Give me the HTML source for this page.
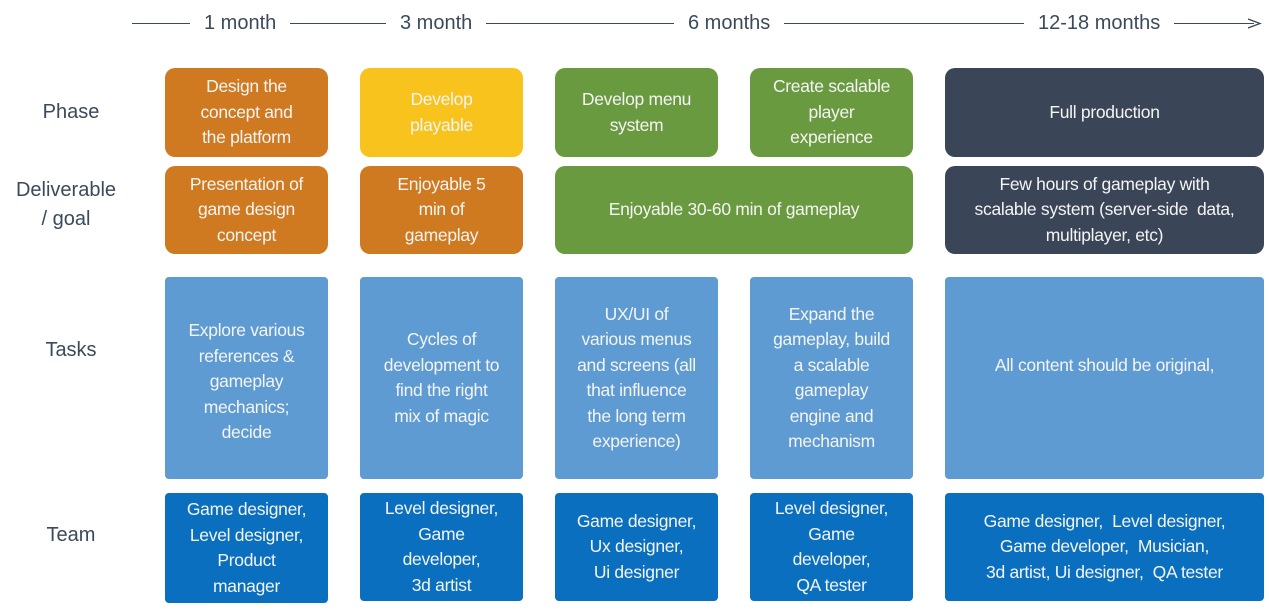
<!DOCTYPE html>
<html><head><meta charset="utf-8"><style>
body{margin:0;width:1269px;height:613px;background:#fff;position:relative;overflow:hidden;font-family:"Liberation Sans",sans-serif}
.b{position:absolute;display:flex;align-items:center;justify-content:center;text-align:center;color:#f4f4f4;font-size:17.5px;line-height:25.5px;box-sizing:border-box;padding:0 2px;white-space:nowrap;letter-spacing:-0.3px}
.r{border-radius:10px}
.s{border-radius:4px}
.lab{position:absolute;color:#3b4a5a;font-size:20px;text-align:center;line-height:29px}
.hd{position:absolute;top:12px;color:#3b4a5a;font-size:20px;background:#fff;padding:0 14px}
.ln{position:absolute;top:23px;height:1px;background:#3b4a5a}
</style></head><body>
<div class="ln" style="left:132px;width:1122px"></div>
<svg style="position:absolute;left:1248px;top:18px" width="14" height="11"><path d="M0 1 L12 5.5 L0 10" fill="none" stroke="#3b4a5a" stroke-width="1.3"/></svg>
<div class="hd" style="left:190px">1 month</div>
<div class="hd" style="left:386px">3 month</div>
<div class="hd" style="left:674px">6 months</div>
<div class="hd" style="left:1024px">12-18 months</div>

<div class="lab" style="left:30px;top:98px;width:82px">Phase</div>
<div class="lab" style="left:8px;top:176px;width:116px">Deliverable<br>/ goal</div>
<div class="lab" style="left:30px;top:336px;width:82px">Tasks</div>
<div class="lab" style="left:30px;top:521px;width:82px">Team</div>

<div class="b r" style="left:165px;top:68px;width:163px;height:89px;background:#cf7a20">Design the<br>concept and<br>the platform</div>
<div class="b r" style="left:360px;top:68px;width:163px;height:89px;background:#f7c31c">Develop<br>playable</div>
<div class="b r" style="left:555px;top:68px;width:163px;height:89px;background:#6a9a3f">Develop menu<br>system</div>
<div class="b r" style="left:750px;top:68px;width:163px;height:89px;background:#6a9a3f">Create scalable<br>player<br>experience</div>
<div class="b r" style="left:945px;top:68px;width:319px;height:89px;background:#3a4557">Full production</div>

<div class="b r" style="left:165px;top:166px;width:163px;height:88px;background:#cf7a20">Presentation of<br>game design<br>concept</div>
<div class="b r" style="left:360px;top:166px;width:163px;height:88px;background:#cf7a20">Enjoyable 5<br>min of<br>gameplay</div>
<div class="b r" style="left:555px;top:166px;width:358px;height:88px;background:#6a9a3f">Enjoyable 30-60 min of gameplay</div>
<div class="b r" style="left:945px;top:166px;width:319px;height:88px;background:#3a4557">Few hours of gameplay with<br>scalable system (server-side&nbsp; data,<br>multiplayer, etc)</div>

<div class="b s" style="left:165px;top:277px;width:163px;height:202px;background:#5e9bd2;padding-top:8px">Explore various<br>references &amp;<br>gameplay<br>mechanics;<br>decide</div>
<div class="b s" style="left:360px;top:277px;width:163px;height:202px;background:#5e9bd2">Cycles of<br>development to<br>find the right<br>mix of magic</div>
<div class="b s" style="left:555px;top:277px;width:163px;height:202px;background:#5e9bd2">UX/UI of<br>various menus<br>and screens (all<br>that influence<br>the long term<br>experience)</div>
<div class="b s" style="left:750px;top:277px;width:163px;height:202px;background:#5e9bd2">Expand the<br>gameplay, build<br>a scalable<br>gameplay<br>engine and<br>mechanism</div>
<div class="b s" style="left:945px;top:277px;width:319px;height:202px;background:#5e9bd2;padding-bottom:24px">All content should be original,</div>

<div class="b s" style="left:165px;top:493px;width:163px;height:110px;background:#0a6fbe">Game designer,<br>Level designer,<br>Product<br>manager</div>
<div class="b s" style="left:360px;top:493px;width:163px;height:108px;background:#0a6fbe">Level designer,<br>Game<br>developer,<br>3d artist</div>
<div class="b s" style="left:555px;top:493px;width:163px;height:108px;background:#0a6fbe">Game designer,<br>Ux designer,<br>Ui designer</div>
<div class="b s" style="left:750px;top:493px;width:163px;height:108px;background:#0a6fbe">Level designer,<br>Game<br>developer,<br>QA tester</div>
<div class="b s" style="left:945px;top:493px;width:319px;height:108px;background:#0a6fbe">Game designer,&nbsp; Level designer,<br>Game developer,&nbsp; Musician,<br>3d artist, Ui designer,&nbsp; QA tester</div>
</body></html>
